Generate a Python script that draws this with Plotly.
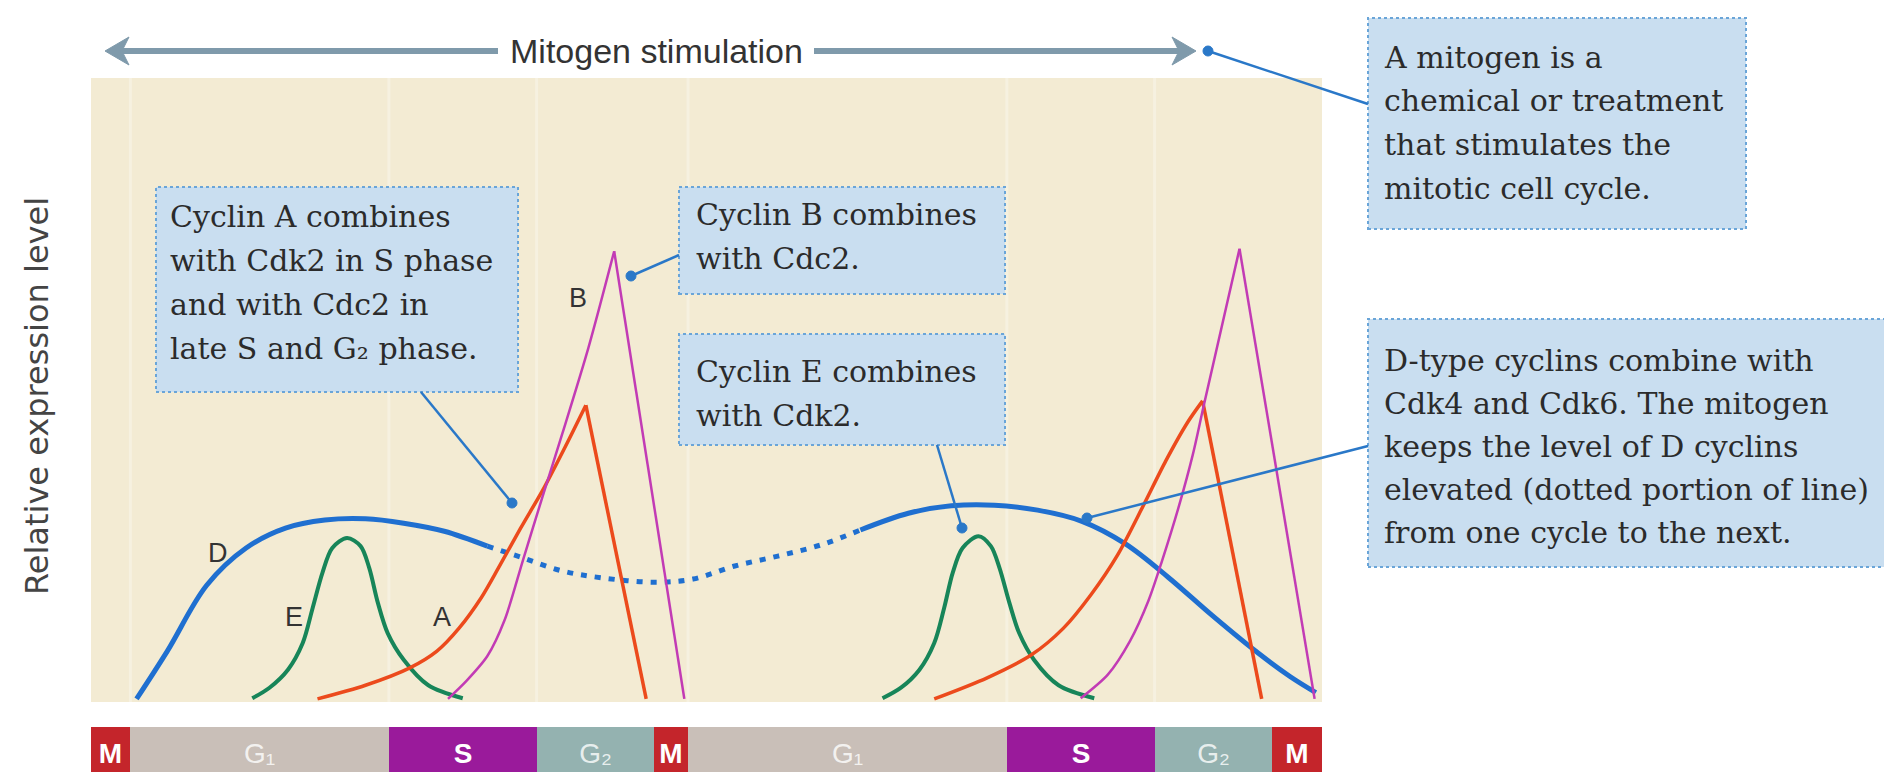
import plotly.graph_objects as go

# ---------------- data (time in arbitrary units 0-100, relative expression level 0-100) -------------
phase_names = ["<b>M</b>", "G₁", "<b>S</b>", "G₂", "<b>M</b>", "G₁", "<b>S</b>", "G₂", "<b>M</b>"]
phase_kind = ["M", "G1", "S", "G2", "M", "G1", "S", "G2", "M"]
phase_durations = [3.2, 21.0, 12.0, 9.5, 2.8, 25.9, 12.0, 9.5, 4.1]

D_t = [3.7, 6.2, 9.4, 12.6, 15.8, 19.0, 22.3, 25.4, 28.7, 32.2, 35.1, 38.3, 41.5, 45.7, 48.9,
       52.3, 55.8, 59.3, 62.5, 66.4, 69.9, 73.4, 76.9, 80.5, 84.0, 87.5, 91.1, 94.6, 97.4, 99.5]
D_lv = [0.0, 7.7, 18.3, 24.3, 27.5, 28.8, 29.0, 28.3, 27.0, 24.6, 22.7, 20.6, 19.5, 18.8, 19.3,
        21.4, 23.0, 24.8, 27.2, 29.9, 31.1, 31.2, 30.4, 28.6, 25.0, 19.6, 13.4, 7.7, 3.6, 1.0]
D_dotted_from = 32.2
D_dotted_to = 62.5

E1_t = [13.1, 14.5, 16.0, 17.2, 18.0, 18.8, 19.6, 20.8, 21.9, 22.6, 23.3, 24.1, 25.4, 27.4, 30.2]
E1_lv = [0.1, 1.8, 4.7, 9.0, 14.6, 20.3, 24.3, 25.9, 24.6, 21.1, 15.5, 10.6, 6.3, 2.2, 0.1]
E2_t = [64.3, 65.8, 67.3, 68.5, 69.3, 70.0, 70.8, 72.1, 73.1, 73.8, 74.6, 75.4, 76.6, 78.6, 81.5]
E2_lv = [0.1, 1.8, 4.7, 9.0, 14.6, 20.3, 24.3, 26.2, 24.6, 21.1, 15.5, 10.6, 6.3, 2.2, 0.1]

A1_t = [18.4, 22.3, 25.9, 28.1, 29.9, 31.7, 33.1, 34.9, 36.8, 38.6, 40.2, 45.1]
A1_lv = [0.0, 2.2, 5.0, 7.7, 11.4, 16.3, 21.1, 27.5, 34.0, 40.9, 47.3, 0.0]
A2_t = [68.5, 72.8, 76.4, 79.0, 81.2, 83.4, 85.5, 87.3, 89.1, 90.3, 95.1]
A2_lv = [0.0, 3.4, 7.1, 11.4, 16.7, 23.2, 31.2, 38.3, 44.6, 48.0, 0.0]

B1_t = [29.0, 30.5, 32.2, 33.6, 35.1, 36.7, 38.3, 40.4, 42.5, 48.2]
B1_lv = [0.0, 2.9, 6.9, 12.7, 22.4, 32.7, 42.8, 56.5, 72.1, 0.0]
B2_t = [80.4, 82.6, 84.4, 85.9, 87.0, 88.4, 89.5, 90.4, 93.3, 99.4]
B2_lv = [0.1, 3.9, 9.3, 15.8, 22.2, 31.2, 39.3, 47.3, 72.5, 0.0]

box_mitogen = ["A mitogen is a", "chemical or treatment", "that stimulates the", "mitotic cell cycle."]
box_dtype = ["D-type cyclins combine with", "Cdk4 and Cdk6. The mitogen", "keeps the level of D cyclins",
             "elevated (dotted portion of line)", "from one cycle to the next."]
box_cyclinA = ["Cyclin A combines", "with Cdk2 in S phase", "and with Cdc2 in", "late S and G₂ phase."]
box_cyclinB = ["Cyclin B combines", "with Cdc2."]
box_cyclinE = ["Cyclin E combines", "with Cdk2."]

# ---------------- styling ----------------
W, H = 1892, 772
BEIGE = "#f3ebd3"
C_D, C_E, C_A, C_B = "#1f6fd0", "#178559", "#ec4a1c", "#c23bb5"
C_CALL = "#2a78c8"
C_ARROW = "#7f9aab"
BOX_FILL = "#c9def0"
BOX_LINE = "#6aa5d8"
TXT = "#2b2b2b"
PHASE_COL = {"M": "#c4252b", "G1": "#c9bfb8", "S": "#9a1a9b", "G2": "#94b2b0"}
PHASE_TXT = {"M": "white", "G1": "rgba(255,255,255,0.8)", "S": "white", "G2": "rgba(255,255,255,0.8)"}


def px(x):
    return x / W


def py(y):
    return 1 - y / H


fig = go.Figure()


def add_peak_curve(t, lv, color, width):
    k = lv.index(max(lv))
    fig.add_trace(go.Scatter(x=t[:k + 1], y=lv[:k + 1], mode="lines",
                             line=dict(color=color, width=width, shape="spline", smoothing=0.8),
                             hoverinfo="skip", showlegend=False))
    fig.add_trace(go.Scatter(x=t[k:], y=lv[k:], mode="lines",
                             line=dict(color=color, width=width),
                             hoverinfo="skip", showlegend=False))


# cyclin D: solid - dotted - solid
seg1 = [(t, v) for t, v in zip(D_t, D_lv) if t <= D_dotted_from]
seg2 = [(t, v) for t, v in zip(D_t, D_lv) if D_dotted_from <= t <= D_dotted_to]
seg3 = [(t, v) for t, v in zip(D_t, D_lv) if t >= D_dotted_to]
for seg, dash in ((seg1, "solid"), (seg2, "6px,8px"), (seg3, "solid")):
    fig.add_trace(go.Scatter(x=[s[0] for s in seg], y=[s[1] for s in seg], mode="lines",
                             line=dict(color=C_D, width=5, shape="spline", smoothing=1.0, dash=dash),
                             hoverinfo="skip", showlegend=False))

for t, lv in ((E1_t, E1_lv), (E2_t, E2_lv)):
    fig.add_trace(go.Scatter(x=t, y=lv, mode="lines",
                             line=dict(color=C_E, width=4, shape="spline", smoothing=0.9),
                             hoverinfo="skip", showlegend=False))

add_peak_curve(A1_t, A1_lv, C_A, 3.5)
add_peak_curve(A2_t, A2_lv, C_A, 3.5)
add_peak_curve(B1_t, B1_lv, C_B, 2.5)
add_peak_curve(B2_t, B2_lv, C_B, 2.5)

# phase bar
starts = []
acc = 0
for d in phase_durations:
    starts.append(acc)
    acc += d
fig.add_trace(go.Bar(
    x=phase_durations, base=starts, y=[0] * len(phase_durations), orientation="h",
    marker=dict(color=[PHASE_COL[k] for k in phase_kind], line=dict(width=0)),
    text=phase_names, textposition="inside", insidetextanchor="middle",
    textfont=dict(family="Liberation Sans", size=28, color=[PHASE_TXT[k] for k in phase_kind]),
    xaxis="x", yaxis="y2", hoverinfo="skip", showlegend=False, cliponaxis=False))

shapes = []
# faint light stripes at the start of G1, S and G2
for s, k in zip(starts, phase_kind):
    if k in ("G1", "S", "G2"):
        shapes.append(dict(type="line", xref="x", yref="paper", x0=s, x1=s, y0=py(694), y1=py(70),
                           line=dict(color="rgba(255,255,255,0.3)", width=3), layer="below"))

annotations = []


def text_box(x0, y0, x1, y1, lines, tx, ty0, dy, size=30):
    shapes.append(dict(type="rect", xref="paper", yref="paper", x0=px(x0), x1=px(x1), y0=py(y1), y1=py(y0),
                       fillcolor=BOX_FILL, line=dict(color=BOX_LINE, width=2, dash="dot")))
    for i, ln in enumerate(lines):
        annotations.append(dict(xref="paper", yref="paper", x=px(tx), y=py(ty0 + i * dy), text=ln,
                                xanchor="left", yanchor="middle", showarrow=False,
                                font=dict(family="DejaVu Serif", size=size, color=TXT)))


def callout(dotx, doty, tailx, taily, r=5):
    shapes.append(dict(type="line", xref="paper", yref="paper", x0=px(tailx), y0=py(taily),
                       x1=px(dotx), y1=py(doty), line=dict(color=C_CALL, width=2.5)))
    shapes.append(dict(type="circle", xref="paper", yref="paper", x0=px(dotx - r), x1=px(dotx + r),
                       y0=py(doty + r), y1=py(doty - r), fillcolor=C_CALL, line=dict(color=C_CALL, width=1)))


text_box(1360, 10, 1738, 221, box_mitogen, 1374, 49, 44)
text_box(1360, 311, 1888, 559, box_dtype, 1374, 352, 43)
text_box(148, 179, 510, 384, box_cyclinA, 160, 208, 44)
text_box(671, 179, 997, 286, box_cyclinB, 686, 206, 44)
text_box(671, 326, 997, 437, box_cyclinE, 686, 363, 44)

callout(1200, 43, 1360, 96)
callout(504, 495, 413, 384)
callout(623, 268, 671, 247)
callout(954, 520, 929, 437)
callout(1079, 510, 1360, 438)

# Mitogen stimulation double arrow (shafts + chevron heads)
AY = 43
for tip, tail, sgn in ((97, 490, 1), (1188, 806, -1)):
    shapes.append(dict(type="line", xref="paper", yref="paper", x0=px(tip + sgn * 12), x1=px(tail),
                       y0=py(AY), y1=py(AY), line=dict(color=C_ARROW, width=6)))
    path = "M {a},{b} L {c},{d} L {e},{f} L {g},{h} Z".format(
        a=px(tip), b=py(AY),
        c=px(tip + sgn * 24), d=py(AY - 14),
        e=px(tip + sgn * 17), f=py(AY),
        g=px(tip + sgn * 24), h=py(AY + 14))
    shapes.append(dict(type="path", xref="paper", yref="paper", path=path,
                       fillcolor=C_ARROW, line=dict(color=C_ARROW, width=1)))
annotations.append(dict(xref="paper", yref="paper", x=px(648), y=py(AY), text="Mitogen stimulation",
                        showarrow=False, xanchor="center", yanchor="middle",
                        font=dict(family="Liberation Sans", size=34, color="#333333")))

# curve labels
for lab, x, y in (("D", 210, 545), ("E", 286, 609), ("A", 434, 609), ("B", 570, 290)):
    annotations.append(dict(xref="paper", yref="paper", x=px(x), y=py(y), text=lab, showarrow=False,
                            xanchor="center", yanchor="middle",
                            font=dict(family="Liberation Sans", size=27, color="#333333")))

# axis title
annotations.append(dict(xref="paper", yref="paper", x=px(29), y=py(388), text="Relative expression level",
                        showarrow=False, textangle=-90, xanchor="center", yanchor="middle",
                        font=dict(family="DejaVu Sans", size=32, color="#444444")))

fig.update_layout(
    width=W, height=H, margin=dict(l=0, r=0, t=0, b=0),
    paper_bgcolor="white", plot_bgcolor=BEIGE,
    xaxis=dict(domain=[px(83), px(1314)], range=[0, 100], showgrid=False, zeroline=False,
               showticklabels=False, ticks="", showline=False),
    yaxis=dict(domain=[py(694), py(70)], range=[-0.5, 100], showgrid=False, zeroline=False,
               showticklabels=False, ticks="", showline=False),
    yaxis2=dict(domain=[0, py(719)], range=[-0.5, 0.5], anchor="x", showgrid=False, zeroline=False,
                showticklabels=False, ticks="", showline=False),
    bargap=0, barmode="overlay",
    shapes=shapes, annotations=annotations, showlegend=False,
)

fig.write_html("out.html")
